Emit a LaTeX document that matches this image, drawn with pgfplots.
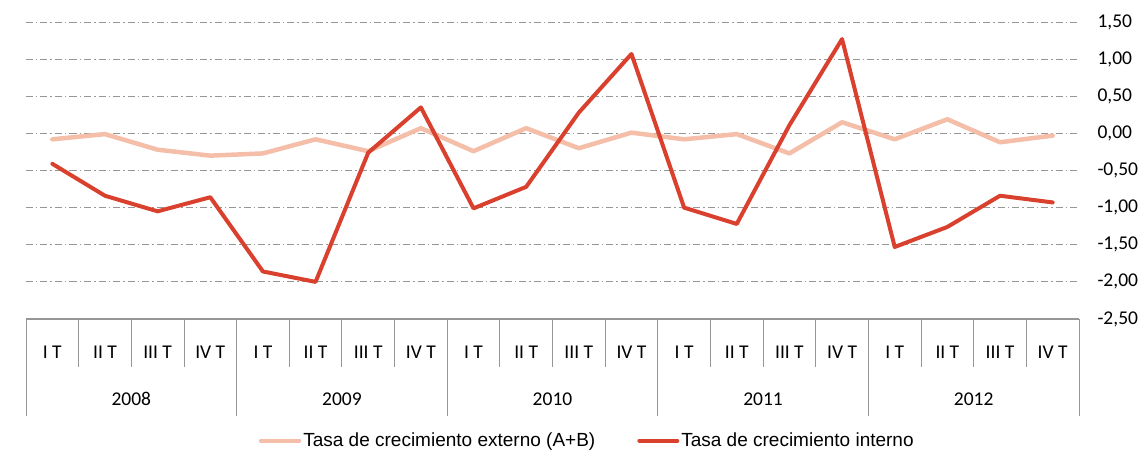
\documentclass[border=0pt]{standalone}
\usepackage{fontspec}
\setmainfont{Carlito}
\newfontfamily\arialfont{Liberation Sans}
\usepackage{pgfplots}
\pgfplotsset{compat=1.18}
\usepackage{pgfplotstable}
\definecolor{interno}{RGB}{218,64,46}
\definecolor{externo}{RGB}{244,190,168}
\definecolor{gridgray}{RGB}{150,150,150}
\definecolor{framegray}{RGB}{150,150,150}

% quarter index, external growth (A+B), internal growth
\pgfplotstableread{
i ext int
0 -0.08 -0.41
1 -0.01 -0.84
2 -0.22 -1.05
3 -0.30 -0.86
4 -0.27 -1.86
5 -0.08 -2.00
6 -0.24 -0.26
7 0.07 0.35
8 -0.24 -1.01
9 0.07 -0.72
10 -0.20 0.28
11 0.01 1.07
12 -0.08 -1.00
13 -0.01 -1.22
14 -0.27 0.11
15 0.15 1.27
16 -0.08 -1.53
17 0.19 -1.26
18 -0.12 -0.84
19 -0.03 -0.93
}\datos

\begin{document}
\begin{tikzpicture}
\useasboundingbox (-26pt,-133pt) rectangle (1116pt,319pt);
\begin{axis}[
  at={(0pt,0pt)}, anchor=south west,
  scale only axis, width=1053pt, height=297pt,
  xmin=-0.5, xmax=19.5, ymin=-2.5, ymax=1.5,
  clip=false,
  axis x line*=bottom, axis y line*=right,
  y axis line style={draw=none},
  x axis line style={framegray, line width=1.5pt},
  ytick={-2.5,-2,...,1.5},
  ymajorgrids,
  major grid style={gridgray, line width=0.8pt, dash pattern=on 7pt off 3pt on 1.5pt off 3pt},
  major tick length=0pt,
  minor tick length=48pt,
  tick align=outside,
  tick style={framegray, line width=0.8pt},
  yticklabel style={font=\fontsize{19.5}{22}\selectfont, anchor=west, xshift=15pt},
  y tick label style={/pgf/number format/.cd, fixed, fixed zerofill, precision=2, use comma, assume math mode=true},
  xtick={0,...,19},
  xticklabels={I T,II T,III T,IV T,I T,II T,III T,IV T,I T,II T,III T,IV T,I T,II T,III T,IV T,I T,II T,III T,IV T},
  xticklabel style={font=\fontsize{19.5}{22}\selectfont, anchor=center, yshift=-33pt},
  minor xtick={-0.5,0.5,...,19.5},
  extra x ticks={-0.5,3.5,7.5,11.5,15.5,19.5},
  extra x tick labels={},
  extra x tick style={major tick length=97pt, tick align=outside, grid=none},
  legend columns=2,
  legend style={at={(0.533,-0.41)}, anchor=center, draw=none, fill=none,
    font=\arialfont\fontsize{19}{22}\selectfont,
    /tikz/every even column/.append style={column sep=40pt},
    nodes={inner xsep=2pt}},
  legend image code/.code={\draw[#1] (0pt,0pt) -- (38pt,0pt);},
]
\addplot[externo, line width=4.5pt, line join=round, line cap=round] table[x=i, y=ext] {\datos};
\addlegendentry{Tasa de crecimiento externo (A+B)}
\addplot[interno, line width=4pt, line join=round, line cap=round] table[x=i, y=int] {\datos};
\addlegendentry{Tasa de crecimiento interno}
\node[font=\fontsize{19.5}{22}\selectfont] at (axis cs:1.5,-2.5) [yshift=-80pt] {2008};
\node[font=\fontsize{19.5}{22}\selectfont] at (axis cs:5.5,-2.5) [yshift=-80pt] {2009};
\node[font=\fontsize{19.5}{22}\selectfont] at (axis cs:9.5,-2.5) [yshift=-80pt] {2010};
\node[font=\fontsize{19.5}{22}\selectfont] at (axis cs:13.5,-2.5) [yshift=-80pt] {2011};
\node[font=\fontsize{19.5}{22}\selectfont] at (axis cs:17.5,-2.5) [yshift=-80pt] {2012};
\end{axis}
\end{tikzpicture}
\end{document}
